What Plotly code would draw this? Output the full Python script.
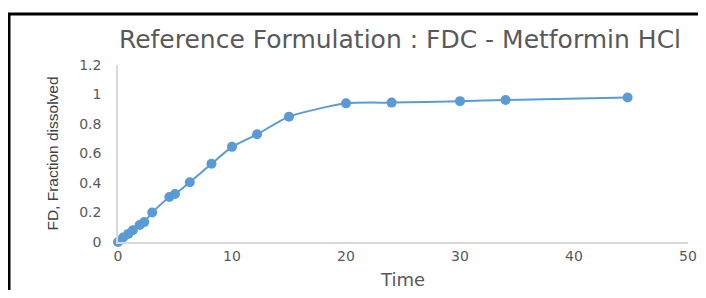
import plotly.graph_objects as go

time = [0, 0.45, 0.9, 1.3, 1.9, 2.3, 3.0, 4.5, 5.0, 6.3, 8.2, 10, 12.2, 15, 20, 24, 30, 34, 44.7]
fd = [0, 0.03, 0.055, 0.08, 0.115, 0.135, 0.20, 0.305, 0.325, 0.405, 0.53, 0.645, 0.73, 0.85, 0.94, 0.945, 0.955, 0.963, 0.98]

x_ticks = [0, 10, 20, 30, 40, 50]
y_ticks = [0, 0.2, 0.4, 0.6, 0.8, 1, 1.2]
y_tick_labels = ["0", "0.2", "0.4", "0.6", "0.8", "1", "1.2"]

title_text = "Reference Formulation : FDC - Metformin HCl"
x_title = "Time"
y_title = "FD, Fraction dissolved"

blue = "#5B9BD5"
gray = "#595959"
wide = "DejaVu Sans"

W, H = 690, 282
L, T, R, B = 110, 57, 10, 48
PW = W - L - R

fig = go.Figure()
fig.add_trace(go.Scatter(
    x=time, y=fd, mode="lines+markers",
    line=dict(color=blue, width=2, shape="spline", smoothing=0.6),
    marker=dict(color=blue, size=10),
    showlegend=False, cliponaxis=False,
))

fig.update_layout(
    width=W, height=H,
    margin=dict(l=L, r=R, t=T, b=B, autoexpand=False),
    paper_bgcolor="white", plot_bgcolor="white",
    font=dict(family=wide, color=gray),
    title=dict(text=title_text, x=392 / W, xanchor="center", y=1 - 31 / H, yanchor="middle",
               font=dict(family=wide, size=25, color=gray)),
    xaxis=dict(range=[0, 50], tickvals=x_ticks, showgrid=False, zeroline=False,
               showline=True, linecolor="#D9D9D9", linewidth=1.5, automargin=False,
               tickfont=dict(family=wide, size=14, color=gray), ticklabeloverflow="allow",
               title=dict(text=x_title, font=dict(family=wide, size=18, color=gray), standoff=11)),
    yaxis=dict(range=[0, 1.2], tickvals=y_ticks, ticktext=y_tick_labels, showgrid=False,
               zeroline=False, showline=True, linecolor="#D9D9D9", linewidth=1.5, automargin=False,
               tickfont=dict(family=wide, size=14, color=gray), ticklabelstandoff=12,
               title=dict(text=y_title, font=dict(family="Liberation Sans Narrow, Liberation Sans", size=15.5, color="#404040"), standoff=17)),
)

fig.add_shape(type="rect", xref="paper", yref="paper",
              x0=(1 - L) / PW, x1=(730 - L) / PW,
              y0=(234 - 320) / 177, y1=(234 - 6) / 177,
              line=dict(color="black", width=3), fillcolor="rgba(0,0,0,0)", layer="above")

fig.write_html("out.html")
